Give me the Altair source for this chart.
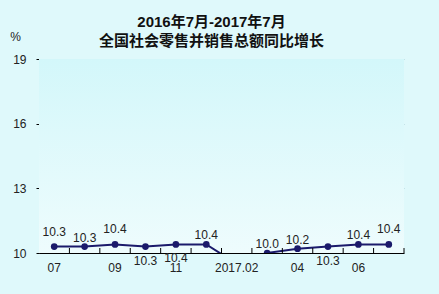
import altair as alt
import pandas as pd

# ---- data ----
periods = ["2016.07", "2016.08", "2016.09", "2016.10", "2016.11", "2016.12",
           "2017.02", "2017.03", "2017.04", "2017.05", "2017.06", "2017.07"]
tick_labels = ["07", "", "09", "", "11", "", "2017.02", "", "04", "", "06", ""]
growth = [10.3, 10.3, 10.4, 10.3, 10.4, 10.4, 9.5, 10.0, 10.2, 10.3, 10.4, 10.4]
value_labels = ["10.3", "10.3", "10.4", "10.3", "10.4", "10.4", "", "10.0", "10.2", "10.3", "10.4", "10.4"]
label_side = ["high", "above", "high", "below", "below", "above", "none",
              "above", "above", "below", "above", "high"]
y_ticks = [10, 13, 16, 19]

df = pd.DataFrame({"period": periods, "growth": growth,
                   "label": value_labels, "side": label_side})

W, H = 365, 194
FONT = "Liberation Sans, Arial, Noto Sans CJK SC"
NAVY = "#1b1a6b"

label_expr = "[" + ",".join(f"'{t}'" for t in tick_labels) + "][indexof([" + \
    ",".join(f"'{p}'" for p in periods) + "], datum.value)]"

x_enc = alt.X("period:N", sort=periods,
              scale=alt.Scale(paddingInner=0, paddingOuter=0),
              axis=alt.Axis(title=None, labelAngle=0, ticks=False,
                            labelExpr=label_expr, labelFont=FONT, labelFontSize=12,
                            labelColor="#222222", labelPadding=9,
                            domainColor="#000000", domainWidth=1, grid=False))
y_enc = alt.Y("growth:Q",
              scale=alt.Scale(domain=[10, 19], nice=False, zero=False),
              axis=alt.Axis(values=y_ticks, title="%", titleAngle=0,
                            titleFont=FONT, titleFontSize=12, titleFontWeight="normal",
                            titleColor="#222222", titleX=-24, titleY=-16,
                            titleAlign="center",
                            labelFont=FONT, labelFontSize=12, labelColor="#222222",
                            labelPadding=10, tickSize=3, tickColor="#000000",
                            domainColor="#000000", grid=True,
                            gridColor="#a9cdd4", gridWidth=1))

base = alt.Chart(df)

bg = alt.Chart(pd.DataFrame({"a": [0]})).mark_rect(
    color=alt.Gradient(gradient="linear", x1=0, y1=0, x2=0, y2=1,
                       stops=[alt.GradientStop(offset=0, color="#d3f7fa"),
                              alt.GradientStop(offset=1, color="#eefcfd")])
).encode(x=alt.value(0), x2=alt.value(W), y=alt.value(0), y2=alt.value(H))

line = base.mark_line(color=NAVY, strokeWidth=2, clip=True).encode(x=x_enc, y=y_enc)
pts = base.mark_circle(color=NAVY, size=45, opacity=1, clip=True).encode(
    x=alt.X("period:N", sort=periods), y="growth:Q")

ticks = base.mark_rule(color="#000000", strokeWidth=1).encode(
    x=alt.X("period:N", sort=periods, bandPosition=1),
    y=alt.value(H), y2=alt.value(H - 5))

def lab(side, dy):
    return base.transform_filter(alt.datum.side == side).mark_text(
        font=FONT, fontSize=12, color="#222222", dy=dy, baseline="middle"
    ).encode(x=alt.X("period:N", sort=periods), y="growth:Q", text="label:N")

chart = alt.layer(
    bg, line, pts, ticks,
    lab("high", -15), lab("above", -9), lab("below", 14),
).properties(
    width=W, height=H,
    title=alt.TitleParams(
        ["2016年7月-2017年7月", "全国社会零售并销售总额同比增长"],
        anchor="middle", font=FONT, fontSize=15, fontWeight="bold",
        color="#111111", lineHeight=19, offset=16, dx=-10, dy=35),
    autosize=alt.AutoSizeParams(type="none"),
    padding={"left": 39, "top": 59, "right": 35, "bottom": 41},
    background="#dff9fb",
).configure_view(stroke=None)

chart.save("out.html", embed_options={"renderer": "svg", "actions": False})
